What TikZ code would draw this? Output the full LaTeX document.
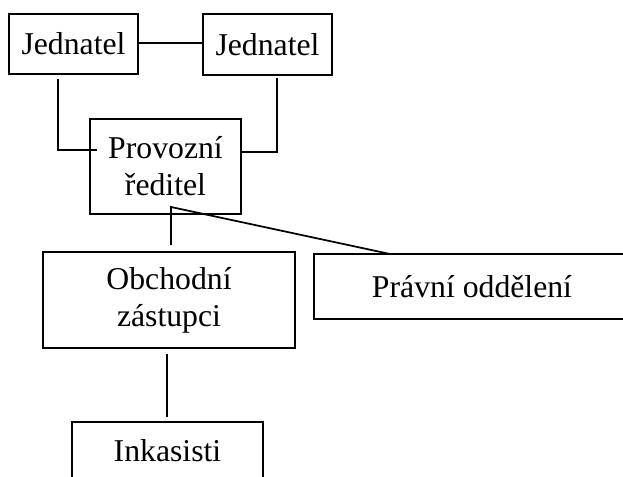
\documentclass[tikz,border=0pt]{standalone}
\usepackage{fontspec}
\setmainfont{Liberation Serif}
\begin{document}
\begin{tikzpicture}[x=0.75pt,y=-0.75pt,
  box/.style={draw,line width=1.4pt,inner sep=0pt,align=center,
    font=\fontsize{23.8pt}{27.6pt}\selectfont},
  conn/.style={line width=1.3pt}]
\useasboundingbox (0,0) rectangle (623,477);
\clip (0,0) rectangle (623,477);
\node[box,minimum width=96.75pt,minimum height=45pt] (j1) at (73.5,44) {Jednatel};
\node[box,minimum width=96.75pt,minimum height=45.75pt] (j2) at (267.5,44.5) {Jednatel};
\node[box,minimum width=113.25pt,minimum height=71.25pt] (prov) at (165.5,166.5) {Provozní\\ředitel};
\node[box,minimum width=189pt,minimum height=72pt] (obch) at (169,300) {Obchodní\\zástupci};
\node[box,minimum width=237pt,minimum height=48.75pt] (prav) at (472,286.5) {Právní oddělení};
\node[box,anchor=north,minimum width=143.25pt,text height=30pt,text depth=40pt] (ink) at (167.5,421) {Inkasisti};
\coordinate (l1) at (58,79);
\coordinate (l2) at (97,150);
\coordinate (r1) at (277,78);
\coordinate (r2) at (242,152);
\coordinate (p0) at (171,207);
\coordinate (p1) at (171,245);
\coordinate (p2) at (390,254);
\coordinate (o1) at (167,354);
\coordinate (o2) at (167,417);
\draw[conn] (j1.east |- 0,43) -- (j2.west |- 0,43);
\draw[conn] (l1) |- (l2);
\draw[conn] (r1) |- (r2);
\draw[conn] (p1) -- (p0) -- (p2);
\draw[conn] (o1) -- (o2);
\end{tikzpicture}
\end{document}
